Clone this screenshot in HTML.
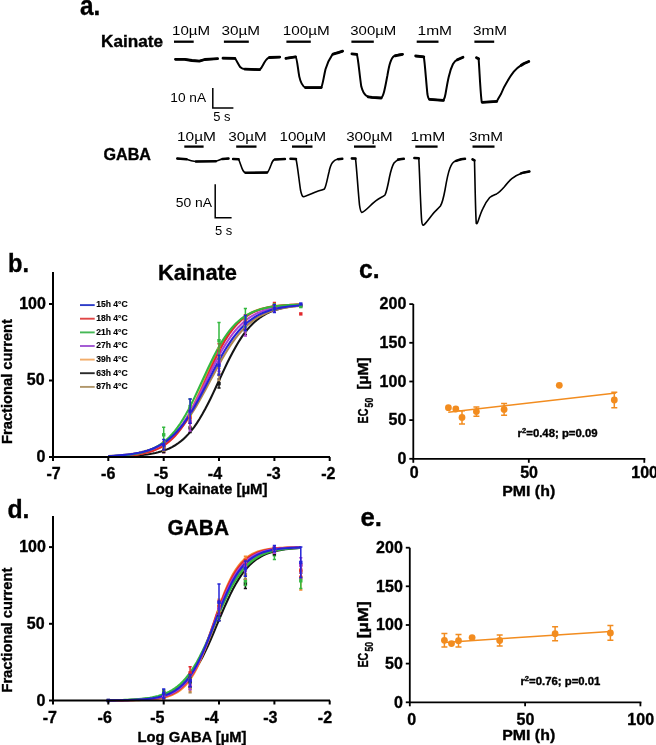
<!DOCTYPE html>
<html><head><meta charset="utf-8"><style>
html,body{margin:0;padding:0;background:#fff;}
svg{display:block;filter:blur(0.3px);}
text{font-family:"Liberation Sans",sans-serif;fill:#000;}
text[font-weight="bold"]{stroke:#000;stroke-width:0.35px;}
</style></head><body>
<svg width="656" height="745" viewBox="0 0 656 745">
<rect width="656" height="745" fill="#fff"/>
<text x="80" y="15" font-size="27.5" font-weight="bold" textLength="20.3" lengthAdjust="spacingAndGlyphs" >a.</text>
<text x="101" y="47" font-size="16.5" font-weight="bold" textLength="62" lengthAdjust="spacingAndGlyphs" >Kainate</text>
<text x="103.5" y="160" font-size="16.5" font-weight="bold" textLength="47.5" lengthAdjust="spacingAndGlyphs" >GABA</text>
<text x="172" y="35.3" font-size="13.5" textLength="38.0" lengthAdjust="spacingAndGlyphs" >10µM</text>
<text x="221.5" y="35.3" font-size="13.5" textLength="38.5" lengthAdjust="spacingAndGlyphs" >30µM</text>
<text x="282.7" y="35.3" font-size="13.5" textLength="47.0" lengthAdjust="spacingAndGlyphs" >100µM</text>
<text x="350.3" y="35.3" font-size="13.5" textLength="46.0" lengthAdjust="spacingAndGlyphs" >300µM</text>
<text x="417.5" y="35.3" font-size="13.5" textLength="34.5" lengthAdjust="spacingAndGlyphs" >1mM</text>
<text x="473" y="35.3" font-size="13.5" textLength="34.0" lengthAdjust="spacingAndGlyphs" >3mM</text>
<text x="177" y="140.7" font-size="13.5" textLength="39.0" lengthAdjust="spacingAndGlyphs" >10µM</text>
<text x="228.3" y="140.7" font-size="13.5" textLength="38.5" lengthAdjust="spacingAndGlyphs" >30µM</text>
<text x="279.5" y="140.7" font-size="13.5" textLength="46.5" lengthAdjust="spacingAndGlyphs" >100µM</text>
<text x="346.2" y="140.7" font-size="13.5" textLength="46.5" lengthAdjust="spacingAndGlyphs" >300µM</text>
<text x="410.6" y="140.7" font-size="13.5" textLength="34.5" lengthAdjust="spacingAndGlyphs" >1mM</text>
<text x="469" y="140.7" font-size="13.5" textLength="34.0" lengthAdjust="spacingAndGlyphs" >3mM</text>
<line x1="174" y1="41.7" x2="193.7" y2="41.7" stroke="#000" stroke-width="2.3"/>
<line x1="223.9" y1="41.7" x2="248.8" y2="41.7" stroke="#000" stroke-width="2.3"/>
<line x1="286.4" y1="41.7" x2="310.8" y2="41.7" stroke="#000" stroke-width="2.3"/>
<line x1="351.4" y1="41.7" x2="373.8" y2="41.7" stroke="#000" stroke-width="2.3"/>
<line x1="416.7" y1="41.7" x2="438.5" y2="41.7" stroke="#000" stroke-width="2.3"/>
<line x1="474.4" y1="41.7" x2="494.2" y2="41.7" stroke="#000" stroke-width="2.3"/>
<line x1="184.3" y1="146.6" x2="203.6" y2="146.6" stroke="#000" stroke-width="2.3"/>
<line x1="236.2" y1="146.6" x2="256.5" y2="146.6" stroke="#000" stroke-width="2.3"/>
<line x1="292" y1="146.6" x2="312.5" y2="146.6" stroke="#000" stroke-width="2.3"/>
<line x1="354" y1="146.6" x2="375.6" y2="146.6" stroke="#000" stroke-width="2.3"/>
<line x1="415.3" y1="146.6" x2="437.6" y2="146.6" stroke="#000" stroke-width="2.3"/>
<line x1="472.5" y1="146.6" x2="494.5" y2="146.6" stroke="#000" stroke-width="2.3"/>
<path d="M212.8,88 V108 H233.4" fill="none" stroke="#000" stroke-width="1.5"/>
<text x="170.3" y="102.2" font-size="13.5" textLength="35.8" lengthAdjust="spacingAndGlyphs" >10 nA</text>
<text x="213.2" y="121.4" font-size="13.5" textLength="17.3" lengthAdjust="spacingAndGlyphs" >5 s</text>
<path d="M215.2,184.3 V217.7 H231.6" fill="none" stroke="#000" stroke-width="1.5"/>
<text x="175.8" y="207" font-size="13.5" textLength="36.3" lengthAdjust="spacingAndGlyphs" >50 nA</text>
<text x="214.9" y="234.9" font-size="13.5" textLength="17.3" lengthAdjust="spacingAndGlyphs" >5 s</text>
<path d="M175.5,59.3 L184.6,59.3 L192,60.5 L199.3,61.1 L204.8,59.5 L210,59.2 L217.6,58.7" fill="none" stroke="#000" stroke-linejoin="round" stroke-linecap="round" stroke-width="2.0"/>
<path d="M223,58.2 L234.9,58.4 C236.5,60 238,64 240.4,67.3 C242,68.8 243,69.1 245,69.1 L259.6,69.7 C261,69 262,67 263,65 C264.5,62 266,59 268.8,57.6 L279.7,57.1" fill="none" stroke="#000" stroke-linejoin="round" stroke-linecap="round" stroke-width="2.0"/>
<path d="M285.9,58.3 L295.6,56.8 C297,57.5 298,70 299.3,76.6 C300.5,82 302,86 305.4,87.6 L321.2,87.6 C322.5,86 323.5,78 325.5,69.3 C327,64 328.5,60 332.2,54.8 C334,53.5 336,53 338.3,52.6 L342.6,51.2" fill="none" stroke="#000" stroke-linejoin="round" stroke-linecap="round" stroke-width="2.0"/>
<path d="M351.9,53.9 L356.8,54.3 C358,56 359.5,75 361.3,86.6 C362.5,91 364,94 366,95.5 C368,97 370,97.3 372,97.4 L381.2,98 C382.5,97 383.5,94 384.2,91.2 C385.5,86 386.5,80 387.3,76 C388.3,70 389.3,65 390.3,62.3 C391.5,59 392.5,57 394.1,56.2 C396,55 399,54.5 402.5,54.3" fill="none" stroke="#000" stroke-linejoin="round" stroke-linecap="round" stroke-width="2.0"/>
<path d="M415.7,56 L423.8,56.8 C424.8,62 426,80 427.4,94 C428,97.5 428.7,99 429.5,99.3 L443.4,100.4 C444.5,99 445,97 445.5,94 C446.5,88 447.5,82 448.7,76.9 C450,71 451.5,67 453,64 C454.5,61.5 455.5,60.5 457.3,59.8 L463,57.3" fill="none" stroke="#000" stroke-linejoin="round" stroke-linecap="round" stroke-width="2.0"/>
<path d="M476.5,57.7 L478.6,58.7 C479.5,70 480.5,95 481.8,102.3 L496.8,101.4 C498,99 499.5,96.5 501,94 C503,89 505,85 507.4,81.2 C509.5,77.5 511.5,74.5 513.8,71.6 C516,69 518.5,67 521.3,65.2 C524,63.5 526,62.5 528.8,61.5" fill="none" stroke="#000" stroke-linejoin="round" stroke-linecap="round" stroke-width="2.0"/>
<path d="M175.5,59.3 L184.6,59.3 L192,60.5 L199.3,61.1 L204.8,59.5 L210,59.2 L217.6,58.7" fill="none" stroke="#000" stroke-linejoin="round" stroke-linecap="round" stroke-width="2.8"/>
<path d="M223,58.2 L234.9,58.4" fill="none" stroke="#000" stroke-linejoin="round" stroke-linecap="round" stroke-width="2.8"/>
<path d="M245,69.1 L259.6,69.7" fill="none" stroke="#000" stroke-linejoin="round" stroke-linecap="round" stroke-width="2.8"/>
<path d="M269.5,57.5 L279.7,57.1" fill="none" stroke="#000" stroke-linejoin="round" stroke-linecap="round" stroke-width="2.8"/>
<path d="M285.9,58.3 L295.6,56.8" fill="none" stroke="#000" stroke-linejoin="round" stroke-linecap="round" stroke-width="2.8"/>
<path d="M305.4,87.6 L321.2,87.6" fill="none" stroke="#000" stroke-linejoin="round" stroke-linecap="round" stroke-width="2.8"/>
<path d="M333,54.2 L338.3,52.6 L342.6,51.2" fill="none" stroke="#000" stroke-linejoin="round" stroke-linecap="round" stroke-width="2.8"/>
<path d="M351.9,53.9 L356.8,54.3" fill="none" stroke="#000" stroke-linejoin="round" stroke-linecap="round" stroke-width="2.8"/>
<path d="M368,96.8 L372,97.4 L381.2,98" fill="none" stroke="#000" stroke-linejoin="round" stroke-linecap="round" stroke-width="2.8"/>
<path d="M395,55.8 L402.5,54.3" fill="none" stroke="#000" stroke-linejoin="round" stroke-linecap="round" stroke-width="2.8"/>
<path d="M415.7,56 L423.8,56.8" fill="none" stroke="#000" stroke-linejoin="round" stroke-linecap="round" stroke-width="2.8"/>
<path d="M429.5,99.3 L443.4,100.4" fill="none" stroke="#000" stroke-linejoin="round" stroke-linecap="round" stroke-width="2.8"/>
<path d="M457.3,59.8 L463,57.3" fill="none" stroke="#000" stroke-linejoin="round" stroke-linecap="round" stroke-width="2.8"/>
<path d="M476.5,57.7 L478.6,58.7" fill="none" stroke="#000" stroke-linejoin="round" stroke-linecap="round" stroke-width="2.8"/>
<path d="M482.5,102.3 L496.8,101.4" fill="none" stroke="#000" stroke-linejoin="round" stroke-linecap="round" stroke-width="2.8"/>
<path d="M521.3,65.2 L524,63.5 L528.8,61.5" fill="none" stroke="#000" stroke-linejoin="round" stroke-linecap="round" stroke-width="2.8"/>
<path d="M177.3,158.6 L186.5,159.2 C189,160.2 192,161.2 195.6,161.5 L215.8,161.2 C218,160.8 220,159.6 222,159.1 L228.5,158.6" fill="none" stroke="#000" stroke-linejoin="round" stroke-linecap="round" stroke-width="1.6"/>
<path d="M233.1,159 L238.6,159.3 C240,162 241.5,168 243,170.5 C243.8,172 244.5,172.5 245.5,172.7 L267,172.6 C268.5,172 269.5,169 271,165 C272,162 273,160.2 274.3,159.5 L284.9,159" fill="none" stroke="#000" stroke-linejoin="round" stroke-linecap="round" stroke-width="1.6"/>
<path d="M290.5,158.8 L296,159 C297.5,165 299,180 300.5,190 C301.5,195 302.3,196.5 303.4,196.8 C306,196.5 312,193.5 317,191.5 C320,190.5 322.5,190 324.4,189 C326,187 327.5,178 329,172 C330,167 331,164.5 332.5,162.5 C334,160.5 335.5,159.6 337.2,159.3 L342.3,158.8" fill="none" stroke="#000" stroke-linejoin="round" stroke-linecap="round" stroke-width="1.6"/>
<path d="M351.8,158.4 L355.5,158.6 C356.5,166 358,190 359.5,205 C360.2,210 360.8,212 361.8,212.4 C363.5,212.4 366,210 370,206 C374,202 378,199 381,197.5 C383,196.5 384,196 385,195 C386.5,192 388,185 389.5,177 C391,170 392.5,165.5 394,163 C395.5,161 397.5,160 399.5,159.5 L403.8,158.8" fill="none" stroke="#000" stroke-linejoin="round" stroke-linecap="round" stroke-width="1.6"/>
<path d="M414.4,158 L418.8,158.3 C419.5,170 420.5,205 421.6,220 C422,224 422.5,225.3 423.2,225.3 C425,224.5 428,220 432,215 C435,211 438,209 440.4,206 C442,203.5 443.5,198 445,190 C446.5,181 448,173 450,168 C451.5,164 453,162 455,161.2 C458,160 461,159.3 465,158.8" fill="none" stroke="#000" stroke-linejoin="round" stroke-linecap="round" stroke-width="1.6"/>
<path d="M472.5,159.3 L474.5,160.4 C475,180 475.5,215 476.3,223.5 C477,224.2 477.5,223 478.5,220 C480,215.5 481.5,211 483,208.4 C485,204 487.5,200 489.7,197.5 C492,195.5 494.5,194.8 496.6,193.9 C499,192.5 501.5,190 504.2,187 C507,183.5 509,181 511.8,178.7 C514.5,176.5 517.5,174.5 521,173.4 C524,172.4 526.5,171.9 529.4,171.4" fill="none" stroke="#000" stroke-linejoin="round" stroke-linecap="round" stroke-width="1.6"/>
<path d="M177.3,158.6 L186.5,159.2" fill="none" stroke="#000" stroke-linejoin="round" stroke-linecap="round" stroke-width="2.5"/>
<path d="M196,161.5 L215.8,161.2" fill="none" stroke="#000" stroke-linejoin="round" stroke-linecap="round" stroke-width="2.5"/>
<path d="M222.5,159 L228.5,158.6" fill="none" stroke="#000" stroke-linejoin="round" stroke-linecap="round" stroke-width="2.5"/>
<path d="M233.1,159 L238.6,159.3" fill="none" stroke="#000" stroke-linejoin="round" stroke-linecap="round" stroke-width="2.5"/>
<path d="M245.5,172.7 L267,172.6" fill="none" stroke="#000" stroke-linejoin="round" stroke-linecap="round" stroke-width="2.5"/>
<path d="M275,159.4 L284.9,159" fill="none" stroke="#000" stroke-linejoin="round" stroke-linecap="round" stroke-width="2.5"/>
<path d="M290.5,158.8 L296,159" fill="none" stroke="#000" stroke-linejoin="round" stroke-linecap="round" stroke-width="2.5"/>
<path d="M338,159.2 L342.3,158.8" fill="none" stroke="#000" stroke-linejoin="round" stroke-linecap="round" stroke-width="2.5"/>
<path d="M351.8,158.4 L355.5,158.6" fill="none" stroke="#000" stroke-linejoin="round" stroke-linecap="round" stroke-width="2.5"/>
<path d="M398,159.6 L403.8,158.8" fill="none" stroke="#000" stroke-linejoin="round" stroke-linecap="round" stroke-width="2.5"/>
<path d="M414.4,158 L418.8,158.3" fill="none" stroke="#000" stroke-linejoin="round" stroke-linecap="round" stroke-width="2.5"/>
<path d="M456,160.9 L461,159.3 L465,158.8" fill="none" stroke="#000" stroke-linejoin="round" stroke-linecap="round" stroke-width="2.5"/>
<path d="M472.5,159.3 L474.5,160.4" fill="none" stroke="#000" stroke-linejoin="round" stroke-linecap="round" stroke-width="2.5"/>
<path d="M521,173.4 L524,172.4 L529.4,171.4" fill="none" stroke="#000" stroke-linejoin="round" stroke-linecap="round" stroke-width="2.5"/>
<polyline points="108.34,456.71 111.11,456.67 113.87,456.61 116.64,456.54 119.41,456.47 122.18,456.37 124.94,456.27 127.71,456.15 130.48,456.00 133.24,455.83 136.01,455.64 138.78,455.41 141.54,455.14 144.31,454.83 147.08,454.46 149.84,454.04 152.61,453.55 155.38,452.98 158.15,452.31 160.91,451.55 163.68,450.66 166.45,449.63 169.21,448.45 171.98,447.09 174.75,445.53 177.52,443.75 180.28,441.72 183.05,439.42 185.82,436.82 188.58,433.91 191.35,430.66 194.12,427.06 196.88,423.09 199.65,418.77 202.42,414.09 205.19,409.08 207.95,403.77 210.72,398.19 213.49,392.42 216.25,386.49 219.02,380.50 221.79,374.51 224.55,368.58 227.32,362.81 230.09,357.23 232.86,351.92 235.62,346.91 238.39,342.23 241.16,337.91 243.92,333.94 246.69,330.34 249.46,327.09 252.22,324.18 254.99,321.58 257.76,319.28 260.52,317.25 263.29,315.47 266.06,313.91 268.83,312.55 271.59,311.37 274.36,310.34 277.13,309.45 279.89,308.69 282.66,308.02 285.43,307.45 288.20,306.96 290.96,306.54 293.73,306.17 296.50,305.86 299.26,305.59 300.76,305.46" fill="none" stroke="#151515" stroke-width="2.1"/>
<polyline points="108.34,456.02 111.11,455.87 113.87,455.71 116.64,455.52 119.41,455.31 122.18,455.06 124.94,454.78 127.71,454.46 130.48,454.10 133.24,453.68 136.01,453.21 138.78,452.67 141.54,452.06 144.31,451.36 147.08,450.57 149.84,449.68 152.61,448.66 155.38,447.52 158.15,446.22 160.91,444.77 163.68,443.14 166.45,441.32 169.21,439.29 171.98,437.04 174.75,434.54 177.52,431.80 180.28,428.79 183.05,425.51 185.82,421.95 188.58,418.12 191.35,414.03 194.12,409.68 196.88,405.10 199.65,400.32 202.42,395.36 205.19,390.27 207.95,385.09 210.72,379.87 213.49,374.66 216.25,369.50 219.02,364.43 221.79,359.52 224.55,354.78 227.32,350.25 230.09,345.97 232.86,341.93 235.62,338.17 238.39,334.68 241.16,331.47 243.92,328.52 246.69,325.83 249.46,323.40 252.22,321.20 254.99,319.22 257.76,317.45 260.52,315.86 263.29,314.45 266.06,313.20 268.83,312.08 271.59,311.10 274.36,310.23 277.13,309.46 279.89,308.79 282.66,308.19 285.43,307.67 288.20,307.21 290.96,306.81 293.73,306.45 296.50,306.15 299.26,305.88 300.76,305.74" fill="none" stroke="#ad8852" stroke-width="2.1"/>
<polyline points="108.34,456.54 111.11,456.46 113.87,456.36 116.64,456.25 119.41,456.11 122.18,455.95 124.94,455.76 127.71,455.54 130.48,455.28 133.24,454.97 136.01,454.60 138.78,454.17 141.54,453.67 144.31,453.08 147.08,452.39 149.84,451.59 152.61,450.64 155.38,449.54 158.15,448.27 160.91,446.79 163.68,445.08 166.45,443.11 169.21,440.85 171.98,438.27 174.75,435.35 177.52,432.06 180.28,428.38 183.05,424.29 185.82,419.79 188.58,414.89 191.35,409.61 194.12,403.98 196.88,398.06 199.65,391.91 202.42,385.60 205.19,379.22 207.95,372.86 210.72,366.61 213.49,360.54 216.25,354.73 219.02,349.24 221.79,344.10 224.55,339.36 227.32,335.03 230.09,331.10 232.86,327.58 235.62,324.44 238.39,321.66 241.16,319.21 243.92,317.07 246.69,315.21 249.46,313.60 252.22,312.20 254.99,311.00 257.76,309.96 260.52,309.08 263.29,308.32 266.06,307.67 268.83,307.12 271.59,306.65 274.36,306.25 277.13,305.90 279.89,305.61 282.66,305.37 285.43,305.16 288.20,304.98 290.96,304.83 293.73,304.70 296.50,304.60 299.26,304.51 300.76,304.46" fill="none" stroke="#f48a30" stroke-width="2.1"/>
<polyline points="108.34,456.55 111.11,456.47 113.87,456.38 116.64,456.27 119.41,456.14 122.18,455.98 124.94,455.80 127.71,455.59 130.48,455.33 133.24,455.04 136.01,454.69 138.78,454.28 141.54,453.80 144.31,453.23 147.08,452.57 149.84,451.80 152.61,450.90 155.38,449.85 158.15,448.64 160.91,447.22 163.68,445.59 166.45,443.71 169.21,441.55 171.98,439.09 174.75,436.30 177.52,433.14 180.28,429.61 183.05,425.68 185.82,421.34 188.58,416.61 191.35,411.49 194.12,406.01 196.88,400.22 199.65,394.18 202.42,387.96 205.19,381.64 207.95,375.30 210.72,369.04 213.49,362.92 216.25,357.04 219.02,351.45 221.79,346.19 224.55,341.32 227.32,336.84 230.09,332.76 232.86,329.08 235.62,325.80 238.39,322.87 241.16,320.30 243.92,318.03 246.69,316.06 249.46,314.34 252.22,312.85 254.99,311.56 257.76,310.46 260.52,309.50 263.29,308.69 266.06,307.99 268.83,307.39 271.59,306.89 274.36,306.45 277.13,306.08 279.89,305.77 282.66,305.50 285.43,305.27 288.20,305.08 290.96,304.92 293.73,304.78 296.50,304.66 299.26,304.56 300.76,304.51" fill="none" stroke="#e2282c" stroke-width="2.1"/>
<polyline points="108.34,456.24 111.11,456.11 113.87,455.97 116.64,455.81 119.41,455.62 122.18,455.40 124.94,455.14 127.71,454.85 130.48,454.51 133.24,454.11 136.01,453.66 138.78,453.13 141.54,452.53 144.31,451.83 147.08,451.03 149.84,450.12 152.61,449.06 155.38,447.86 158.15,446.49 160.91,444.93 163.68,443.17 166.45,441.17 169.21,438.92 171.98,436.40 174.75,433.59 177.52,430.47 180.28,427.04 183.05,423.28 185.82,419.19 188.58,414.78 191.35,410.07 194.12,405.07 196.88,399.83 199.65,394.39 202.42,388.81 205.19,383.13 207.95,377.42 210.72,371.74 213.49,366.16 216.25,360.74 219.02,355.52 221.79,350.55 224.55,345.86 227.32,341.47 230.09,337.41 232.86,333.67 235.62,330.27 238.39,327.17 241.16,324.39 243.92,321.89 246.69,319.66 249.46,317.68 252.22,315.93 254.99,314.39 257.76,313.04 260.52,311.85 263.29,310.81 266.06,309.90 268.83,309.11 271.59,308.42 274.36,307.82 277.13,307.30 279.89,306.85 282.66,306.46 285.43,306.13 288.20,305.84 290.96,305.58 293.73,305.37 296.50,305.18 299.26,305.02 300.76,304.94" fill="none" stroke="#b042d4" stroke-width="2.1"/>
<polyline points="108.34,456.31 111.11,456.20 113.87,456.06 116.64,455.90 119.41,455.71 122.18,455.49 124.94,455.23 127.71,454.93 130.48,454.58 133.24,454.17 136.01,453.69 138.78,453.14 141.54,452.49 144.31,451.75 147.08,450.88 149.84,449.87 152.61,448.71 155.38,447.37 158.15,445.84 160.91,444.08 163.68,442.07 166.45,439.79 169.21,437.21 171.98,434.30 174.75,431.06 177.52,427.45 180.28,423.48 183.05,419.14 185.82,414.43 188.58,409.38 191.35,404.02 194.12,398.39 196.88,392.55 199.65,386.56 202.42,380.50 205.19,374.44 207.95,368.45 210.72,362.61 213.49,356.98 216.25,351.62 219.02,346.57 221.79,341.86 224.55,337.52 227.32,333.55 230.09,329.94 232.86,326.70 235.62,323.79 238.39,321.21 241.16,318.93 243.92,316.92 246.69,315.16 249.46,313.63 252.22,312.29 254.99,311.13 257.76,310.12 260.52,309.25 263.29,308.51 266.06,307.86 268.83,307.31 271.59,306.83 274.36,306.42 277.13,306.07 279.89,305.77 282.66,305.51 285.43,305.29 288.20,305.10 290.96,304.94 293.73,304.80 296.50,304.69 299.26,304.59 300.76,304.54" fill="none" stroke="#33b83f" stroke-width="2.1"/>
<polyline points="108.34,456.09 111.11,455.96 113.87,455.80 116.64,455.62 119.41,455.41 122.18,455.17 124.94,454.90 127.71,454.58 130.48,454.22 133.24,453.81 136.01,453.33 138.78,452.79 141.54,452.17 144.31,451.47 147.08,450.66 149.84,449.74 152.61,448.70 155.38,447.51 158.15,446.17 160.91,444.66 163.68,442.96 166.45,441.05 169.21,438.91 171.98,436.53 174.75,433.89 177.52,430.97 180.28,427.77 183.05,424.28 185.82,420.49 188.58,416.41 191.35,412.06 194.12,407.44 196.88,402.58 199.65,397.53 202.42,392.31 205.19,386.98 207.95,381.58 210.72,376.17 213.49,370.81 216.25,365.54 219.02,360.42 221.79,355.48 224.55,350.76 227.32,346.30 230.09,342.11 232.86,338.20 235.62,334.59 238.39,331.27 241.16,328.25 243.92,325.50 246.69,323.01 249.46,320.78 252.22,318.78 254.99,317.00 257.76,315.41 260.52,314.00 263.29,312.76 266.06,311.66 268.83,310.69 271.59,309.84 274.36,309.10 277.13,308.45 279.89,307.87 282.66,307.37 285.43,306.94 288.20,306.56 290.96,306.22 293.73,305.93 296.50,305.68 299.26,305.46 300.76,305.36" fill="none" stroke="#2424d6" stroke-width="2.1"/>
<path d="M163.7,443.2 V452.4 M162.1,443.2 H165.3 M162.1,452.4 H165.3" stroke="#e2282c" stroke-width="1.5" fill="none"/>
<rect x="162.0" y="446.1" width="3.4" height="3.4" fill="#e2282c"/>
<path d="M163.7,441.7 V452.4 M162.1,441.7 H165.3 M162.1,452.4 H165.3" stroke="#b042d4" stroke-width="1.5" fill="none"/>
<rect x="162.0" y="445.4" width="3.4" height="3.4" fill="#b042d4"/>
<path d="M163.7,441.7 V450.9 M162.1,441.7 H165.3 M162.1,450.9 H165.3" stroke="#f48a30" stroke-width="1.5" fill="none"/>
<rect x="162.0" y="444.6" width="3.4" height="3.4" fill="#f48a30"/>
<path d="M163.7,446.3 V452.4 M162.1,446.3 H165.3 M162.1,452.4 H165.3" stroke="#151515" stroke-width="1.5" fill="none"/>
<rect x="162.0" y="447.7" width="3.4" height="3.4" fill="#151515"/>
<path d="M163.7,444.8 V450.9 M162.1,444.8 H165.3 M162.1,450.9 H165.3" stroke="#ad8852" stroke-width="1.5" fill="none"/>
<rect x="162.0" y="446.1" width="3.4" height="3.4" fill="#ad8852"/>
<path d="M163.7,427.2 V442.5 M162.1,427.2 H165.3 M162.1,442.5 H165.3" stroke="#33b83f" stroke-width="1.5" fill="none"/>
<rect x="162.0" y="433.1" width="3.4" height="3.4" fill="#33b83f"/>
<path d="M163.7,439.4 V450.1 M162.1,439.4 H165.3 M162.1,450.1 H165.3" stroke="#2424d6" stroke-width="1.5" fill="none"/>
<rect x="162.0" y="443.1" width="3.4" height="3.4" fill="#2424d6"/>
<path d="M190.1,423.3 V432.5 M188.5,423.3 H191.7 M188.5,432.5 H191.7" stroke="#151515" stroke-width="1.5" fill="none"/>
<rect x="188.4" y="426.2" width="3.4" height="3.4" fill="#151515"/>
<path d="M190.1,414.2 V426.4 M188.5,414.2 H191.7 M188.5,426.4 H191.7" stroke="#ad8852" stroke-width="1.5" fill="none"/>
<rect x="188.4" y="418.6" width="3.4" height="3.4" fill="#ad8852"/>
<path d="M190.1,411.1 V423.3 M188.5,411.1 H191.7 M188.5,423.3 H191.7" stroke="#e2282c" stroke-width="1.5" fill="none"/>
<rect x="188.4" y="415.5" width="3.4" height="3.4" fill="#e2282c"/>
<path d="M190.1,409.6 V421.8 M188.5,409.6 H191.7 M188.5,421.8 H191.7" stroke="#f48a30" stroke-width="1.5" fill="none"/>
<rect x="188.4" y="414.0" width="3.4" height="3.4" fill="#f48a30"/>
<path d="M190.1,398.9 V414.2 M188.5,398.9 H191.7 M188.5,414.2 H191.7" stroke="#33b83f" stroke-width="1.5" fill="none"/>
<rect x="188.4" y="404.8" width="3.4" height="3.4" fill="#33b83f"/>
<path d="M190.1,412.6 V431.0 M188.5,412.6 H191.7 M188.5,431.0 H191.7" stroke="#b042d4" stroke-width="1.5" fill="none"/>
<rect x="188.4" y="420.1" width="3.4" height="3.4" fill="#b042d4"/>
<path d="M190.1,398.9 V423.3 M188.5,398.9 H191.7 M188.5,423.3 H191.7" stroke="#2424d6" stroke-width="1.5" fill="none"/>
<rect x="188.4" y="409.4" width="3.4" height="3.4" fill="#2424d6"/>
<path d="M219.0,379.0 V388.1 M217.4,379.0 H220.6 M217.4,388.1 H220.6" stroke="#151515" stroke-width="1.5" fill="none"/>
<rect x="217.3" y="381.9" width="3.4" height="3.4" fill="#151515"/>
<path d="M219.0,368.3 V380.5 M217.4,368.3 H220.6 M217.4,380.5 H220.6" stroke="#ad8852" stroke-width="1.5" fill="none"/>
<rect x="217.3" y="372.7" width="3.4" height="3.4" fill="#ad8852"/>
<path d="M219.0,348.4 V363.7 M217.4,348.4 H220.6 M217.4,363.7 H220.6" stroke="#f48a30" stroke-width="1.5" fill="none"/>
<rect x="217.3" y="354.3" width="3.4" height="3.4" fill="#f48a30"/>
<path d="M219.0,343.8 V359.1 M217.4,343.8 H220.6 M217.4,359.1 H220.6" stroke="#e2282c" stroke-width="1.5" fill="none"/>
<rect x="217.3" y="349.7" width="3.4" height="3.4" fill="#e2282c"/>
<path d="M219.0,353.0 V371.3 M217.4,353.0 H220.6 M217.4,371.3 H220.6" stroke="#b042d4" stroke-width="1.5" fill="none"/>
<rect x="217.3" y="360.4" width="3.4" height="3.4" fill="#b042d4"/>
<path d="M219.0,322.4 V359.1 M217.4,322.4 H220.6 M217.4,359.1 H220.6" stroke="#33b83f" stroke-width="1.5" fill="none"/>
<rect x="217.3" y="339.0" width="3.4" height="3.4" fill="#33b83f"/>
<path d="M219.0,355.3 V375.1 M217.4,355.3 H220.6 M217.4,375.1 H220.6" stroke="#2424d6" stroke-width="1.5" fill="none"/>
<rect x="217.3" y="363.5" width="3.4" height="3.4" fill="#2424d6"/>
<path d="M245.4,325.4 V334.6 M243.8,325.4 H247.0 M243.8,334.6 H247.0" stroke="#151515" stroke-width="1.5" fill="none"/>
<rect x="243.7" y="328.3" width="3.4" height="3.4" fill="#151515"/>
<path d="M245.4,322.4 V331.5 M243.8,322.4 H247.0 M243.8,331.5 H247.0" stroke="#ad8852" stroke-width="1.5" fill="none"/>
<rect x="243.7" y="325.2" width="3.4" height="3.4" fill="#ad8852"/>
<path d="M245.4,316.2 V325.4 M243.8,316.2 H247.0 M243.8,325.4 H247.0" stroke="#f48a30" stroke-width="1.5" fill="none"/>
<rect x="243.7" y="319.1" width="3.4" height="3.4" fill="#f48a30"/>
<path d="M245.4,314.7 V323.9 M243.8,314.7 H247.0 M243.8,323.9 H247.0" stroke="#e2282c" stroke-width="1.5" fill="none"/>
<rect x="243.7" y="317.6" width="3.4" height="3.4" fill="#e2282c"/>
<path d="M245.4,317.8 V336.1 M243.8,317.8 H247.0 M243.8,336.1 H247.0" stroke="#b042d4" stroke-width="1.5" fill="none"/>
<rect x="243.7" y="325.2" width="3.4" height="3.4" fill="#b042d4"/>
<path d="M245.4,308.6 V326.9 M243.8,308.6 H247.0 M243.8,326.9 H247.0" stroke="#33b83f" stroke-width="1.5" fill="none"/>
<rect x="243.7" y="316.1" width="3.4" height="3.4" fill="#33b83f"/>
<path d="M245.4,315.5 V330.8 M243.8,315.5 H247.0 M243.8,330.8 H247.0" stroke="#2424d6" stroke-width="1.5" fill="none"/>
<rect x="243.7" y="321.4" width="3.4" height="3.4" fill="#2424d6"/>
<path d="M274.4,305.5 V311.6 M272.8,305.5 H276.0 M272.8,311.6 H276.0" stroke="#151515" stroke-width="1.5" fill="none"/>
<rect x="272.7" y="306.9" width="3.4" height="3.4" fill="#151515"/>
<path d="M274.4,305.5 V311.6 M272.8,305.5 H276.0 M272.8,311.6 H276.0" stroke="#ad8852" stroke-width="1.5" fill="none"/>
<rect x="272.7" y="306.9" width="3.4" height="3.4" fill="#ad8852"/>
<path d="M274.4,304.0 V310.1 M272.8,304.0 H276.0 M272.8,310.1 H276.0" stroke="#f48a30" stroke-width="1.5" fill="none"/>
<rect x="272.7" y="305.4" width="3.4" height="3.4" fill="#f48a30"/>
<path d="M274.4,302.5 V308.6 M272.8,302.5 H276.0 M272.8,308.6 H276.0" stroke="#e2282c" stroke-width="1.5" fill="none"/>
<rect x="272.7" y="303.8" width="3.4" height="3.4" fill="#e2282c"/>
<path d="M274.4,305.5 V311.6 M272.8,305.5 H276.0 M272.8,311.6 H276.0" stroke="#b042d4" stroke-width="1.5" fill="none"/>
<rect x="272.7" y="306.9" width="3.4" height="3.4" fill="#b042d4"/>
<path d="M274.4,304.0 V310.1 M272.8,304.0 H276.0 M272.8,310.1 H276.0" stroke="#33b83f" stroke-width="1.5" fill="none"/>
<rect x="272.7" y="305.4" width="3.4" height="3.4" fill="#33b83f"/>
<path d="M274.4,304.8 V312.4 M272.8,304.8 H276.0 M272.8,312.4 H276.0" stroke="#2424d6" stroke-width="1.5" fill="none"/>
<rect x="272.7" y="306.9" width="3.4" height="3.4" fill="#2424d6"/>
<rect x="299.1" y="303.8" width="3.4" height="3.4" fill="#151515"/>
<rect x="299.1" y="303.8" width="3.4" height="3.4" fill="#f48a30"/>
<rect x="299.1" y="303.8" width="3.4" height="3.4" fill="#b042d4"/>
<rect x="299.1" y="304.9" width="3.4" height="3.4" fill="#33b83f"/>
<rect x="299.1" y="312.2" width="3.4" height="3.4" fill="#e2282c"/>
<rect x="299.1" y="302.3" width="3.4" height="3.4" fill="#2424d6"/>
<path d="M53,272 V457 H330" fill="none" stroke="#000" stroke-width="2"/>
<line x1="49" y1="457.0" x2="53" y2="457.0" stroke="#000" stroke-width="2"/>
<line x1="49" y1="380.5" x2="53" y2="380.5" stroke="#000" stroke-width="2"/>
<line x1="49" y1="304.0" x2="53" y2="304.0" stroke="#000" stroke-width="2"/>
<line x1="53.0" y1="457" x2="53.0" y2="461" stroke="#000" stroke-width="2"/>
<text x="53.50" y="479.3" font-size="16" font-weight="bold" text-anchor="middle" >-7</text>
<line x1="108.3" y1="457" x2="108.3" y2="461" stroke="#000" stroke-width="2"/>
<text x="108.20" y="479.3" font-size="16" font-weight="bold" text-anchor="middle" >-6</text>
<line x1="163.7" y1="457" x2="163.7" y2="461" stroke="#000" stroke-width="2"/>
<text x="161.05" y="479.3" font-size="16" font-weight="bold" text-anchor="middle" >-5</text>
<line x1="219.0" y1="457" x2="219.0" y2="461" stroke="#000" stroke-width="2"/>
<text x="214.95" y="479.3" font-size="16" font-weight="bold" text-anchor="middle" >-4</text>
<line x1="274.4" y1="457" x2="274.4" y2="461" stroke="#000" stroke-width="2"/>
<text x="273.50" y="479.3" font-size="16" font-weight="bold" text-anchor="middle" >-3</text>
<line x1="329.7" y1="457" x2="329.7" y2="461" stroke="#000" stroke-width="2"/>
<text x="328.40" y="479.3" font-size="16" font-weight="bold" text-anchor="middle" >-2</text>
<text x="45.9" y="309.0" font-size="16" font-weight="bold" text-anchor="end" >100</text>
<text x="44.6" y="385.2" font-size="16" font-weight="bold" text-anchor="end" >50</text>
<text x="45.3" y="462.0" font-size="16" font-weight="bold" text-anchor="end" >0</text>
<text x="158" y="279.7" font-size="22" font-weight="bold" textLength="79" lengthAdjust="spacingAndGlyphs" >Kainate</text>
<text x="146.5" y="494.3" font-size="15" font-weight="bold" textLength="121" lengthAdjust="spacingAndGlyphs" >Log Kainate [µM]</text>
<text transform="translate(12.2,444) rotate(-90)" font-size="15.5" font-weight="bold" textLength="125" lengthAdjust="spacingAndGlyphs">Fractional current</text>
<polyline points="108.34,700.33 111.11,700.30 113.87,700.26 116.64,700.21 119.41,700.16 122.18,700.10 124.94,700.02 127.71,699.93 130.48,699.83 133.24,699.70 136.01,699.55 138.78,699.37 141.54,699.16 144.31,698.91 147.08,698.61 149.84,698.26 152.61,697.85 155.38,697.36 158.15,696.78 160.91,696.10 163.68,695.30 166.45,694.36 169.21,693.26 171.98,691.97 174.75,690.47 177.52,688.72 180.28,686.70 183.05,684.37 185.82,681.70 188.58,678.67 191.35,675.23 194.12,671.37 196.88,667.07 199.65,662.34 202.42,657.18 205.19,651.61 207.95,645.69 210.72,639.47 213.49,633.03 216.25,626.45 219.02,619.83 221.79,613.27 224.55,606.86 227.32,600.70 230.09,594.84 232.86,589.36 235.62,584.28 238.39,579.63 241.16,575.43 243.92,571.65 246.69,568.30 249.46,565.33 252.22,562.74 254.99,560.47 257.76,558.51 260.52,556.81 263.29,555.36 266.06,554.11 268.83,553.04 271.59,552.13 274.36,551.35 277.13,550.69 279.89,550.13 282.66,549.66 285.43,549.26 288.20,548.92 290.96,548.64 293.73,548.39 296.50,548.19 299.26,548.02 300.76,547.94" fill="none" stroke="#151515" stroke-width="2.1"/>
<polyline points="108.34,700.37 111.11,700.35 113.87,700.32 116.64,700.28 119.41,700.24 122.18,700.19 124.94,700.12 127.71,700.05 130.48,699.96 133.24,699.85 136.01,699.71 138.78,699.56 141.54,699.37 144.31,699.14 147.08,698.87 149.84,698.54 152.61,698.15 155.38,697.68 158.15,697.13 160.91,696.46 163.68,695.67 166.45,694.73 169.21,693.62 171.98,692.30 174.75,690.74 177.52,688.92 180.28,686.79 183.05,684.31 185.82,681.44 188.58,678.14 191.35,674.39 194.12,670.15 196.88,665.42 199.65,660.19 202.42,654.48 205.19,648.34 207.95,641.82 210.72,635.02 213.49,628.03 216.25,620.98 219.02,613.96 221.79,607.12 224.55,600.54 227.32,594.31 230.09,588.52 232.86,583.19 235.62,578.35 238.39,574.02 241.16,570.17 243.92,566.79 246.69,563.84 249.46,561.28 252.22,559.08 254.99,557.20 257.76,555.59 260.52,554.23 263.29,553.08 266.06,552.11 268.83,551.29 271.59,550.60 274.36,550.02 277.13,549.54 279.89,549.13 282.66,548.79 285.43,548.51 288.20,548.28 290.96,548.08 293.73,547.92 296.50,547.78 299.26,547.67 300.76,547.61" fill="none" stroke="#ad8852" stroke-width="2.1"/>
<polyline points="108.34,700.46 111.11,700.45 113.87,700.44 116.64,700.43 119.41,700.41 122.18,700.39 124.94,700.36 127.71,700.33 130.48,700.28 133.24,700.23 136.01,700.17 138.78,700.08 141.54,699.98 144.31,699.86 147.08,699.70 149.84,699.50 152.61,699.26 155.38,698.96 158.15,698.59 160.91,698.13 163.68,697.57 166.45,696.87 169.21,696.00 171.98,694.94 174.75,693.65 177.52,692.06 180.28,690.14 183.05,687.81 185.82,685.02 188.58,681.70 191.35,677.79 194.12,673.22 196.88,667.97 199.65,662.01 202.42,655.37 205.19,648.10 207.95,640.32 210.72,632.16 213.49,623.80 216.25,615.44 219.02,607.28 221.79,599.50 224.55,592.23 227.32,585.59 230.09,579.63 232.86,574.38 235.62,569.81 238.39,565.90 241.16,562.58 243.92,559.79 246.69,557.46 249.46,555.54 252.22,553.95 254.99,552.66 257.76,551.60 260.52,550.73 263.29,550.03 266.06,549.47 268.83,549.01 271.59,548.64 274.36,548.34 277.13,548.10 279.89,547.90 282.66,547.74 285.43,547.62 288.20,547.52 290.96,547.43 293.73,547.37 296.50,547.32 299.26,547.27 300.76,547.25" fill="none" stroke="#f48a30" stroke-width="2.1"/>
<polyline points="108.34,700.44 111.11,700.43 113.87,700.41 116.64,700.39 119.41,700.37 122.18,700.34 124.94,700.30 127.71,700.25 130.48,700.19 133.24,700.12 136.01,700.04 138.78,699.93 141.54,699.80 144.31,699.64 147.08,699.45 149.84,699.21 152.61,698.91 155.38,698.55 158.15,698.11 160.91,697.57 163.68,696.91 166.45,696.10 169.21,695.13 171.98,693.94 174.75,692.51 177.52,690.79 180.28,688.72 183.05,686.26 185.82,683.35 188.58,679.93 191.35,675.95 194.12,671.37 196.88,666.16 199.65,660.33 202.42,653.89 205.19,646.90 207.95,639.47 210.72,631.72 213.49,623.80 216.25,615.88 219.02,608.13 221.79,600.70 224.55,593.71 227.32,587.27 230.09,581.44 232.86,576.23 235.62,571.65 238.39,567.67 241.16,564.25 243.92,561.34 246.69,558.88 249.46,556.81 252.22,555.09 254.99,553.66 257.76,552.47 260.52,551.50 263.29,550.69 266.06,550.03 268.83,549.49 271.59,549.05 274.36,548.69 277.13,548.39 279.89,548.15 282.66,547.96 285.43,547.80 288.20,547.67 290.96,547.56 293.73,547.48 296.50,547.41 299.26,547.35 300.76,547.32" fill="none" stroke="#e2282c" stroke-width="2.1"/>
<polyline points="108.34,700.28 111.11,700.24 113.87,700.19 116.64,700.13 119.41,700.06 122.18,699.98 124.94,699.89 127.71,699.78 130.48,699.64 133.24,699.48 136.01,699.30 138.78,699.07 141.54,698.81 144.31,698.50 147.08,698.14 149.84,697.71 152.61,697.20 155.38,696.60 158.15,695.90 160.91,695.07 163.68,694.11 166.45,692.98 169.21,691.66 171.98,690.13 174.75,688.35 177.52,686.31 180.28,683.96 183.05,681.27 185.82,678.21 188.58,674.77 191.35,670.91 194.12,666.63 196.88,661.92 199.65,656.79 202.42,651.28 205.19,645.42 207.95,639.27 210.72,632.91 213.49,626.41 216.25,619.88 219.02,613.41 221.79,607.08 224.55,600.99 227.32,595.19 230.09,589.75 232.86,584.71 235.62,580.08 238.39,575.89 241.16,572.11 243.92,568.75 246.69,565.77 249.46,563.15 252.22,560.86 254.99,558.87 257.76,557.15 260.52,555.66 263.29,554.38 266.06,553.29 268.83,552.35 271.59,551.55 274.36,550.87 277.13,550.29 279.89,549.80 282.66,549.39 285.43,549.03 288.20,548.73 290.96,548.48 293.73,548.26 296.50,548.08 299.26,547.93 300.76,547.86" fill="none" stroke="#33b83f" stroke-width="2.1"/>
<polyline points="108.34,700.42 111.11,700.40 113.87,700.38 116.64,700.36 119.41,700.32 122.18,700.29 124.94,700.24 127.71,700.18 130.48,700.11 133.24,700.03 136.01,699.93 138.78,699.80 141.54,699.65 144.31,699.46 147.08,699.24 149.84,698.96 152.61,698.63 155.38,698.23 158.15,697.74 160.91,697.15 163.68,696.44 166.45,695.57 169.21,694.54 171.98,693.29 174.75,691.80 177.52,690.03 180.28,687.93 183.05,685.44 185.82,682.53 188.58,679.14 191.35,675.24 194.12,670.78 196.88,665.74 199.65,660.13 202.42,653.98 205.19,647.32 207.95,640.25 210.72,632.87 213.49,625.32 216.25,617.74 219.02,610.27 221.79,603.06 224.55,596.23 227.32,589.87 230.09,584.03 232.86,578.77 235.62,574.08 238.39,569.95 241.16,566.36 243.92,563.27 246.69,560.62 249.46,558.37 252.22,556.47 254.99,554.87 257.76,553.53 260.52,552.42 263.29,551.49 266.06,550.72 268.83,550.08 271.59,549.55 274.36,549.12 277.13,548.76 279.89,548.47 282.66,548.22 285.43,548.02 288.20,547.86 290.96,547.72 293.73,547.61 296.50,547.52 299.26,547.44 300.76,547.41" fill="none" stroke="#b042d4" stroke-width="2.1"/>
<polyline points="108.34,700.39 111.11,700.37 113.87,700.34 116.64,700.30 119.41,700.26 122.18,700.22 124.94,700.16 127.71,700.08 130.48,700.00 133.24,699.90 136.01,699.77 138.78,699.62 141.54,699.44 144.31,699.22 147.08,698.96 149.84,698.64 152.61,698.26 155.38,697.80 158.15,697.25 160.91,696.59 163.68,695.80 166.45,694.86 169.21,693.74 171.98,692.41 174.75,690.84 177.52,688.98 180.28,686.80 183.05,684.26 185.82,681.31 188.58,677.90 191.35,674.02 194.12,669.62 196.88,664.70 199.65,659.27 202.42,653.33 205.19,646.95 207.95,640.20 210.72,633.17 213.49,625.97 216.25,618.74 219.02,611.60 221.79,604.66 224.55,598.05 227.32,591.84 230.09,586.10 232.86,580.86 235.62,576.16 238.39,571.97 241.16,568.28 243.92,565.06 246.69,562.28 249.46,559.88 252.22,557.84 254.99,556.10 257.76,554.63 260.52,553.38 263.29,552.34 266.06,551.46 268.83,550.73 271.59,550.12 274.36,549.61 277.13,549.18 279.89,548.83 282.66,548.53 285.43,548.29 288.20,548.09 290.96,547.92 293.73,547.78 296.50,547.66 299.26,547.56 300.76,547.52" fill="none" stroke="#2424d6" stroke-width="2.1"/>
<rect x="106.6" y="698.8" width="3.4" height="3.4" fill="#151515"/>
<rect x="106.6" y="698.8" width="3.4" height="3.4" fill="#2424d6"/>
<path d="M163.7,692.8 V699.0 M162.1,692.8 H165.3 M162.1,699.0 H165.3" stroke="#f48a30" stroke-width="1.5" fill="none"/>
<rect x="162.0" y="694.2" width="3.4" height="3.4" fill="#f48a30"/>
<path d="M163.7,691.3 V697.4 M162.1,691.3 H165.3 M162.1,697.4 H165.3" stroke="#e2282c" stroke-width="1.5" fill="none"/>
<rect x="162.0" y="692.7" width="3.4" height="3.4" fill="#e2282c"/>
<path d="M163.7,691.3 V697.4 M162.1,691.3 H165.3 M162.1,697.4 H165.3" stroke="#151515" stroke-width="1.5" fill="none"/>
<rect x="162.0" y="692.7" width="3.4" height="3.4" fill="#151515"/>
<path d="M163.7,689.8 V695.9 M162.1,689.8 H165.3 M162.1,695.9 H165.3" stroke="#33b83f" stroke-width="1.5" fill="none"/>
<rect x="162.0" y="691.1" width="3.4" height="3.4" fill="#33b83f"/>
<path d="M163.7,692.8 V699.0 M162.1,692.8 H165.3 M162.1,699.0 H165.3" stroke="#b042d4" stroke-width="1.5" fill="none"/>
<rect x="162.0" y="694.2" width="3.4" height="3.4" fill="#b042d4"/>
<path d="M163.7,689.0 V698.2 M162.1,689.0 H165.3 M162.1,698.2 H165.3" stroke="#2424d6" stroke-width="1.5" fill="none"/>
<rect x="162.0" y="691.9" width="3.4" height="3.4" fill="#2424d6"/>
<path d="M190.1,682.1 V691.3 M188.5,682.1 H191.7 M188.5,691.3 H191.7" stroke="#f48a30" stroke-width="1.5" fill="none"/>
<rect x="188.4" y="685.0" width="3.4" height="3.4" fill="#f48a30"/>
<path d="M190.1,683.6 V692.8 M188.5,683.6 H191.7 M188.5,692.8 H191.7" stroke="#ad8852" stroke-width="1.5" fill="none"/>
<rect x="188.4" y="686.5" width="3.4" height="3.4" fill="#ad8852"/>
<path d="M190.1,677.5 V686.7 M188.5,677.5 H191.7 M188.5,686.7 H191.7" stroke="#151515" stroke-width="1.5" fill="none"/>
<rect x="188.4" y="680.4" width="3.4" height="3.4" fill="#151515"/>
<path d="M190.1,674.4 V683.6 M188.5,674.4 H191.7 M188.5,683.6 H191.7" stroke="#33b83f" stroke-width="1.5" fill="none"/>
<rect x="188.4" y="677.3" width="3.4" height="3.4" fill="#33b83f"/>
<path d="M190.1,666.8 V679.0 M188.5,666.8 H191.7 M188.5,679.0 H191.7" stroke="#e2282c" stroke-width="1.5" fill="none"/>
<rect x="188.4" y="671.2" width="3.4" height="3.4" fill="#e2282c"/>
<path d="M190.1,680.6 V689.8 M188.5,680.6 H191.7 M188.5,689.8 H191.7" stroke="#b042d4" stroke-width="1.5" fill="none"/>
<rect x="188.4" y="683.5" width="3.4" height="3.4" fill="#b042d4"/>
<path d="M190.1,674.4 V686.7 M188.5,674.4 H191.7 M188.5,686.7 H191.7" stroke="#2424d6" stroke-width="1.5" fill="none"/>
<rect x="188.4" y="678.9" width="3.4" height="3.4" fill="#2424d6"/>
<path d="M219.0,608.5 V620.7 M217.4,608.5 H220.6 M217.4,620.7 H220.6" stroke="#151515" stroke-width="1.5" fill="none"/>
<rect x="217.3" y="612.9" width="3.4" height="3.4" fill="#151515"/>
<path d="M219.0,605.4 V617.7 M217.4,605.4 H220.6 M217.4,617.7 H220.6" stroke="#33b83f" stroke-width="1.5" fill="none"/>
<rect x="217.3" y="609.8" width="3.4" height="3.4" fill="#33b83f"/>
<path d="M219.0,599.3 V611.5 M217.4,599.3 H220.6 M217.4,611.5 H220.6" stroke="#f48a30" stroke-width="1.5" fill="none"/>
<rect x="217.3" y="603.7" width="3.4" height="3.4" fill="#f48a30"/>
<path d="M219.0,600.8 V613.1 M217.4,600.8 H220.6 M217.4,613.1 H220.6" stroke="#e2282c" stroke-width="1.5" fill="none"/>
<rect x="217.3" y="605.2" width="3.4" height="3.4" fill="#e2282c"/>
<path d="M219.0,602.3 V614.6 M217.4,602.3 H220.6 M217.4,614.6 H220.6" stroke="#b042d4" stroke-width="1.5" fill="none"/>
<rect x="217.3" y="606.8" width="3.4" height="3.4" fill="#b042d4"/>
<path d="M219.0,583.9 V620.7 M217.4,583.9 H220.6 M217.4,620.7 H220.6" stroke="#2424d6" stroke-width="1.5" fill="none"/>
<rect x="217.3" y="600.6" width="3.4" height="3.4" fill="#2424d6"/>
<path d="M245.4,579.3 V588.5 M243.8,579.3 H247.0 M243.8,588.5 H247.0" stroke="#151515" stroke-width="1.5" fill="none"/>
<rect x="243.7" y="582.2" width="3.4" height="3.4" fill="#151515"/>
<path d="M245.4,576.2 V585.5 M243.8,576.2 H247.0 M243.8,585.5 H247.0" stroke="#33b83f" stroke-width="1.5" fill="none"/>
<rect x="243.7" y="579.1" width="3.4" height="3.4" fill="#33b83f"/>
<path d="M245.4,570.1 V579.3 M243.8,570.1 H247.0 M243.8,579.3 H247.0" stroke="#ad8852" stroke-width="1.5" fill="none"/>
<rect x="243.7" y="573.0" width="3.4" height="3.4" fill="#ad8852"/>
<path d="M245.4,556.3 V562.4 M243.8,556.3 H247.0 M243.8,562.4 H247.0" stroke="#f48a30" stroke-width="1.5" fill="none"/>
<rect x="243.7" y="557.7" width="3.4" height="3.4" fill="#f48a30"/>
<path d="M245.4,559.4 V565.5 M243.8,559.4 H247.0 M243.8,565.5 H247.0" stroke="#e2282c" stroke-width="1.5" fill="none"/>
<rect x="243.7" y="560.7" width="3.4" height="3.4" fill="#e2282c"/>
<path d="M245.4,562.4 V571.6 M243.8,562.4 H247.0 M243.8,571.6 H247.0" stroke="#b042d4" stroke-width="1.5" fill="none"/>
<rect x="243.7" y="565.3" width="3.4" height="3.4" fill="#b042d4"/>
<path d="M245.4,560.9 V576.2 M243.8,560.9 H247.0 M243.8,576.2 H247.0" stroke="#2424d6" stroke-width="1.5" fill="none"/>
<rect x="243.7" y="566.9" width="3.4" height="3.4" fill="#2424d6"/>
<path d="M274.4,550.2 V559.4 M272.8,550.2 H276.0 M272.8,559.4 H276.0" stroke="#33b83f" stroke-width="1.5" fill="none"/>
<rect x="272.7" y="553.1" width="3.4" height="3.4" fill="#33b83f"/>
<path d="M274.4,548.6 V554.8 M272.8,548.6 H276.0 M272.8,554.8 H276.0" stroke="#151515" stroke-width="1.5" fill="none"/>
<rect x="272.7" y="550.0" width="3.4" height="3.4" fill="#151515"/>
<path d="M274.4,547.1 V553.2 M272.8,547.1 H276.0 M272.8,553.2 H276.0" stroke="#f48a30" stroke-width="1.5" fill="none"/>
<rect x="272.7" y="548.5" width="3.4" height="3.4" fill="#f48a30"/>
<path d="M274.4,547.1 V553.2 M272.8,547.1 H276.0 M272.8,553.2 H276.0" stroke="#e2282c" stroke-width="1.5" fill="none"/>
<rect x="272.7" y="548.5" width="3.4" height="3.4" fill="#e2282c"/>
<path d="M274.4,547.1 V553.2 M272.8,547.1 H276.0 M272.8,553.2 H276.0" stroke="#b042d4" stroke-width="1.5" fill="none"/>
<rect x="272.7" y="548.5" width="3.4" height="3.4" fill="#b042d4"/>
<path d="M274.4,545.6 V551.7 M272.8,545.6 H276.0 M272.8,551.7 H276.0" stroke="#2424d6" stroke-width="1.5" fill="none"/>
<rect x="272.7" y="546.9" width="3.4" height="3.4" fill="#2424d6"/>
<path d="M300.8,565.5 V590.1 M299.2,565.5 H302.4 M299.2,590.1 H302.4" stroke="#f48a30" stroke-width="1.5" fill="none"/>
<rect x="299.1" y="576.1" width="3.4" height="3.4" fill="#f48a30"/>
<path d="M300.8,573.2 V588.5 M299.2,573.2 H302.4 M299.2,588.5 H302.4" stroke="#33b83f" stroke-width="1.5" fill="none"/>
<rect x="299.1" y="579.1" width="3.4" height="3.4" fill="#33b83f"/>
<path d="M300.8,565.5 V577.8 M299.2,565.5 H302.4 M299.2,577.8 H302.4" stroke="#ad8852" stroke-width="1.5" fill="none"/>
<rect x="299.1" y="569.9" width="3.4" height="3.4" fill="#ad8852"/>
<path d="M300.8,564.0 V576.2 M299.2,564.0 H302.4 M299.2,576.2 H302.4" stroke="#e2282c" stroke-width="1.5" fill="none"/>
<rect x="299.1" y="568.4" width="3.4" height="3.4" fill="#e2282c"/>
<path d="M300.8,557.8 V573.2 M299.2,557.8 H302.4 M299.2,573.2 H302.4" stroke="#b042d4" stroke-width="1.5" fill="none"/>
<rect x="299.1" y="563.8" width="3.4" height="3.4" fill="#b042d4"/>
<path d="M300.8,547.1 V577.8 M299.2,547.1 H302.4 M299.2,577.8 H302.4" stroke="#2424d6" stroke-width="1.5" fill="none"/>
<rect x="299.1" y="560.7" width="3.4" height="3.4" fill="#2424d6"/>
<path d="M53,516 V700.5 H330" fill="none" stroke="#000" stroke-width="2"/>
<line x1="49" y1="700.5" x2="53" y2="700.5" stroke="#000" stroke-width="2"/>
<line x1="49" y1="623.8" x2="53" y2="623.8" stroke="#000" stroke-width="2"/>
<line x1="49" y1="547.1" x2="53" y2="547.1" stroke="#000" stroke-width="2"/>
<line x1="53.0" y1="700.5" x2="53.0" y2="704.5" stroke="#000" stroke-width="2"/>
<text x="49.85" y="722.8" font-size="16" font-weight="bold" text-anchor="middle" >-7</text>
<line x1="108.3" y1="700.5" x2="108.3" y2="704.5" stroke="#000" stroke-width="2"/>
<text x="104.70" y="722.8" font-size="16" font-weight="bold" text-anchor="middle" >-6</text>
<line x1="163.7" y1="700.5" x2="163.7" y2="704.5" stroke="#000" stroke-width="2"/>
<text x="157.25" y="722.8" font-size="16" font-weight="bold" text-anchor="middle" >-5</text>
<line x1="219.0" y1="700.5" x2="219.0" y2="704.5" stroke="#000" stroke-width="2"/>
<text x="211.65" y="722.8" font-size="16" font-weight="bold" text-anchor="middle" >-4</text>
<line x1="274.4" y1="700.5" x2="274.4" y2="704.5" stroke="#000" stroke-width="2"/>
<text x="270.30" y="722.8" font-size="16" font-weight="bold" text-anchor="middle" >-3</text>
<line x1="329.7" y1="700.5" x2="329.7" y2="704.5" stroke="#000" stroke-width="2"/>
<text x="324.95" y="722.8" font-size="16" font-weight="bold" text-anchor="middle" >-2</text>
<text x="45.9" y="552.1" font-size="16" font-weight="bold" text-anchor="end" >100</text>
<text x="44.6" y="628.5" font-size="16" font-weight="bold" text-anchor="end" >50</text>
<text x="45.3" y="705.5" font-size="16" font-weight="bold" text-anchor="end" >0</text>
<text x="167.5" y="535" font-size="22" font-weight="bold" textLength="61.5" lengthAdjust="spacingAndGlyphs" >GABA</text>
<text x="137.5" y="741.5" font-size="15" font-weight="bold" textLength="109" lengthAdjust="spacingAndGlyphs" >Log GABA [µM]</text>
<text transform="translate(12.2,692.6) rotate(-90)" font-size="15.5" font-weight="bold" textLength="125" lengthAdjust="spacingAndGlyphs">Fractional current</text>
<line x1="80" y1="305.1" x2="94.7" y2="305.1" stroke="#2c3cc8" stroke-width="1.9"/>
<text x="96.2" y="307.4" font-size="9" font-weight="bold" textLength="31.5" lengthAdjust="spacingAndGlyphs" style="stroke-width:0.15px">15h 4°C</text>
<line x1="80" y1="318.7" x2="94.7" y2="318.7" stroke="#e04646" stroke-width="1.9"/>
<text x="96.2" y="321.0" font-size="9" font-weight="bold" textLength="31.5" lengthAdjust="spacingAndGlyphs" style="stroke-width:0.15px">18h 4°C</text>
<line x1="80" y1="332.4" x2="94.7" y2="332.4" stroke="#46b856" stroke-width="1.9"/>
<text x="96.2" y="334.7" font-size="9" font-weight="bold" textLength="31.5" lengthAdjust="spacingAndGlyphs" style="stroke-width:0.15px">21h 4°C</text>
<line x1="80" y1="346.0" x2="94.7" y2="346.0" stroke="#a055d2" stroke-width="1.9"/>
<text x="96.2" y="348.3" font-size="9" font-weight="bold" textLength="31.5" lengthAdjust="spacingAndGlyphs" style="stroke-width:0.15px">27h 4°C</text>
<line x1="80" y1="359.6" x2="94.7" y2="359.6" stroke="#f2ad6a" stroke-width="1.9"/>
<text x="96.2" y="361.9" font-size="9" font-weight="bold" textLength="31.5" lengthAdjust="spacingAndGlyphs" style="stroke-width:0.15px">39h 4°C</text>
<line x1="80" y1="373.2" x2="94.7" y2="373.2" stroke="#2a2a2a" stroke-width="1.9"/>
<text x="96.2" y="375.6" font-size="9" font-weight="bold" textLength="31.5" lengthAdjust="spacingAndGlyphs" style="stroke-width:0.15px">63h 4°C</text>
<line x1="80" y1="386.9" x2="94.7" y2="386.9" stroke="#b0966a" stroke-width="1.9"/>
<text x="96.2" y="389.2" font-size="9" font-weight="bold" textLength="31.5" lengthAdjust="spacingAndGlyphs" style="stroke-width:0.15px">87h 4°C</text>
<text x="8" y="272.4" font-size="26" font-weight="bold" textLength="21" lengthAdjust="spacingAndGlyphs" >b.</text>
<text x="7.5" y="518.4" font-size="26" font-weight="bold" textLength="22" lengthAdjust="spacingAndGlyphs" >d.</text>
<text x="359" y="278.2" font-size="26" font-weight="bold" textLength="20.5" lengthAdjust="spacingAndGlyphs" >c.</text>
<text x="360.5" y="526" font-size="25" font-weight="bold" textLength="21.5" lengthAdjust="spacingAndGlyphs" >e.</text>
<path d="M413.3,304.1 V458.8 H645.3" fill="none" stroke="#000" stroke-width="1.8"/>
<line x1="409.3" y1="458.8" x2="413.3" y2="458.8" stroke="#000" stroke-width="1.8"/>
<text x="406.3" y="464.1" font-size="16" font-weight="bold" text-anchor="end" >0</text>
<line x1="409.3" y1="420.1" x2="413.3" y2="420.1" stroke="#000" stroke-width="1.8"/>
<text x="406.3" y="425.4" font-size="16" font-weight="bold" text-anchor="end" >50</text>
<line x1="409.3" y1="381.5" x2="413.3" y2="381.5" stroke="#000" stroke-width="1.8"/>
<text x="406.3" y="386.8" font-size="16" font-weight="bold" text-anchor="end" >100</text>
<line x1="409.3" y1="342.8" x2="413.3" y2="342.8" stroke="#000" stroke-width="1.8"/>
<text x="406.3" y="348.1" font-size="16" font-weight="bold" text-anchor="end" >150</text>
<line x1="409.3" y1="304.1" x2="413.3" y2="304.1" stroke="#000" stroke-width="1.8"/>
<text x="406.3" y="309.4" font-size="16" font-weight="bold" text-anchor="end" >200</text>
<line x1="413.3" y1="458.8" x2="413.3" y2="462.8" stroke="#000" stroke-width="1.8"/>
<text x="414.2" y="478.2" font-size="16" font-weight="bold" text-anchor="middle" >0</text>
<line x1="528.8" y1="458.8" x2="528.8" y2="462.8" stroke="#000" stroke-width="1.8"/>
<text x="529.1" y="478.2" font-size="16" font-weight="bold" text-anchor="middle" >50</text>
<line x1="644.3" y1="458.8" x2="644.3" y2="462.8" stroke="#000" stroke-width="1.8"/>
<text x="644.6" y="478.2" font-size="16" font-weight="bold" text-anchor="middle" >100</text>
<text x="502.2" y="495.5" font-size="15" font-weight="bold" textLength="53" lengthAdjust="spacingAndGlyphs" >PMI (h)</text>
<line x1="448.2" y1="412.2" x2="616.1" y2="393.0" stroke="#f28c1f" stroke-width="1.5"/>
<circle cx="448.4" cy="407.7" r="3.4" fill="#f28c1f"/>
<circle cx="455.8" cy="409.0" r="3.4" fill="#f28c1f"/>
<path d="M462.0,410.8 V424.0 M459.0,410.8 H465.0 M459.0,424.0 H465.0" stroke="#f28c1f" stroke-width="1.5" fill="none"/>
<circle cx="462.0" cy="417.4" r="3.4" fill="#f28c1f"/>
<path d="M476.4,406.9 V416.3 M473.4,406.9 H479.4 M473.4,416.3 H479.4" stroke="#f28c1f" stroke-width="1.5" fill="none"/>
<circle cx="476.4" cy="411.6" r="3.4" fill="#f28c1f"/>
<path d="M504.1,403.5 V415.3 M501.1,403.5 H507.1 M501.1,415.3 H507.1" stroke="#f28c1f" stroke-width="1.5" fill="none"/>
<circle cx="504.1" cy="409.4" r="3.4" fill="#f28c1f"/>
<circle cx="559.3" cy="385.3" r="3.4" fill="#f28c1f"/>
<path d="M614.3,392.3 V407.7 M611.3,392.3 H617.3 M611.3,407.7 H617.3" stroke="#f28c1f" stroke-width="1.5" fill="none"/>
<circle cx="614.3" cy="400.0" r="3.4" fill="#f28c1f"/>
<text x="517.6" y="436.8" font-size="10.5" font-weight="bold" textLength="80" lengthAdjust="spacingAndGlyphs">r<tspan font-size="7" dy="-4">2</tspan><tspan dy="4">=0.48; p=0.09</tspan></text>
<g transform="translate(368.3,423.4) rotate(-90)"><text x="0" y="0" font-size="15.5" font-weight="bold" textLength="14.8" lengthAdjust="spacingAndGlyphs">EC</text><text x="16" y="4.2" font-size="11.5" font-weight="bold" textLength="9.6" lengthAdjust="spacingAndGlyphs">50</text><text x="33.6" y="0" font-size="15" font-weight="bold" textLength="32.6" lengthAdjust="spacingAndGlyphs">[µM]</text></g>
<path d="M409.8,547.7 V702.3 H641.4" fill="none" stroke="#000" stroke-width="1.8"/>
<line x1="405.8" y1="702.3" x2="409.8" y2="702.3" stroke="#000" stroke-width="1.8"/>
<text x="402.8" y="707.6" font-size="16" font-weight="bold" text-anchor="end" >0</text>
<line x1="405.8" y1="663.6" x2="409.8" y2="663.6" stroke="#000" stroke-width="1.8"/>
<text x="402.8" y="668.9" font-size="16" font-weight="bold" text-anchor="end" >50</text>
<line x1="405.8" y1="625.0" x2="409.8" y2="625.0" stroke="#000" stroke-width="1.8"/>
<text x="402.8" y="630.3" font-size="16" font-weight="bold" text-anchor="end" >100</text>
<line x1="405.8" y1="586.3" x2="409.8" y2="586.3" stroke="#000" stroke-width="1.8"/>
<text x="402.8" y="591.6" font-size="16" font-weight="bold" text-anchor="end" >150</text>
<line x1="405.8" y1="547.7" x2="409.8" y2="547.7" stroke="#000" stroke-width="1.8"/>
<text x="402.8" y="553.0" font-size="16" font-weight="bold" text-anchor="end" >200</text>
<line x1="409.8" y1="702.3" x2="409.8" y2="706.3" stroke="#000" stroke-width="1.8"/>
<text x="411.7" y="724.6999999999999" font-size="16" font-weight="bold" text-anchor="middle" >0</text>
<line x1="525.1" y1="702.3" x2="525.1" y2="706.3" stroke="#000" stroke-width="1.8"/>
<text x="525.4" y="724.6999999999999" font-size="16" font-weight="bold" text-anchor="middle" >50</text>
<line x1="640.4" y1="702.3" x2="640.4" y2="706.3" stroke="#000" stroke-width="1.8"/>
<text x="640.7" y="724.6999999999999" font-size="16" font-weight="bold" text-anchor="middle" >100</text>
<text x="502.2" y="739.6" font-size="15" font-weight="bold" textLength="53" lengthAdjust="spacingAndGlyphs" >PMI (h)</text>
<line x1="444.4" y1="642.4" x2="610.4" y2="631.6" stroke="#f28c1f" stroke-width="1.5"/>
<path d="M444.4,633.5 V647.1 M441.4,633.5 H447.4 M441.4,647.1 H447.4" stroke="#f28c1f" stroke-width="1.5" fill="none"/>
<circle cx="444.4" cy="640.3" r="3.4" fill="#f28c1f"/>
<circle cx="451.5" cy="643.6" r="3.4" fill="#f28c1f"/>
<path d="M458.5,634.5 V646.9 M455.5,634.5 H461.5 M455.5,646.9 H461.5" stroke="#f28c1f" stroke-width="1.5" fill="none"/>
<circle cx="458.5" cy="640.7" r="3.4" fill="#f28c1f"/>
<circle cx="472.1" cy="637.6" r="3.4" fill="#f28c1f"/>
<path d="M499.7,635.0 V645.9 M496.7,635.0 H502.7 M496.7,645.9 H502.7" stroke="#f28c1f" stroke-width="1.5" fill="none"/>
<circle cx="499.7" cy="640.5" r="3.4" fill="#f28c1f"/>
<path d="M555.1,626.8 V640.7 M552.1,626.8 H558.1 M552.1,640.7 H558.1" stroke="#f28c1f" stroke-width="1.5" fill="none"/>
<circle cx="555.1" cy="633.7" r="3.4" fill="#f28c1f"/>
<path d="M610.4,625.5 V640.2 M607.4,625.5 H613.4 M607.4,640.2 H613.4" stroke="#f28c1f" stroke-width="1.5" fill="none"/>
<circle cx="610.4" cy="632.9" r="3.4" fill="#f28c1f"/>
<text x="520.4" y="685.2" font-size="10.5" font-weight="bold" textLength="80" lengthAdjust="spacingAndGlyphs">r<tspan font-size="7" dy="-4">2</tspan><tspan dy="4">=0.76; p=0.01</tspan></text>
<g transform="translate(368.3,667.5) rotate(-90)"><text x="0" y="0" font-size="15.5" font-weight="bold" textLength="14.8" lengthAdjust="spacingAndGlyphs">EC</text><text x="16" y="4.2" font-size="11.5" font-weight="bold" textLength="9.6" lengthAdjust="spacingAndGlyphs">50</text><text x="29.2" y="0" font-size="15" font-weight="bold" textLength="37.0" lengthAdjust="spacingAndGlyphs">[µM]</text></g>
</svg>
</body></html>
